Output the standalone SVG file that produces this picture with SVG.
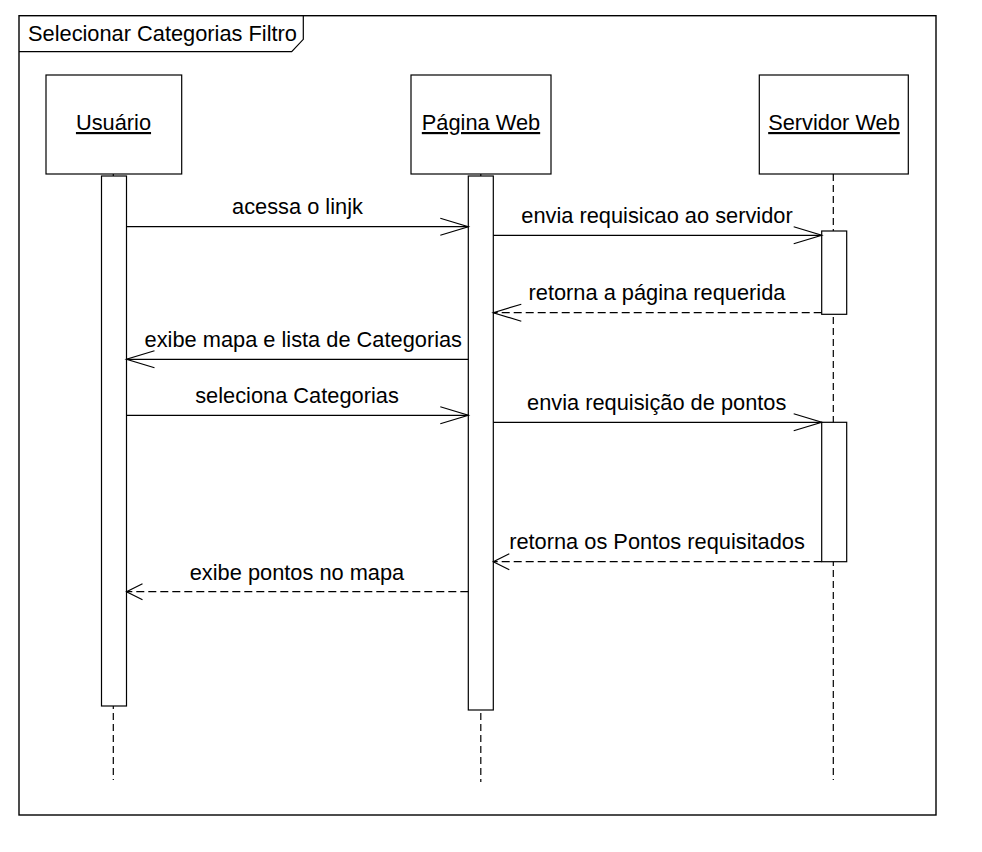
<svg xmlns="http://www.w3.org/2000/svg" width="982" height="852" viewBox="0 0 982 852">
<style>
text{font-family:"Liberation Sans",Arial,sans-serif;font-size:21.8px;fill:#000}
.mid{text-anchor:middle}
.ul{text-decoration:underline}
.box{fill:#fff;stroke:#000;stroke-width:1.2}
.act{fill:#fff;stroke:#000;stroke-width:1.2}
.life{stroke:#000;stroke-width:1.2;stroke-dasharray:7,4;fill:none}
.msg{stroke:#000;stroke-width:1.2;fill:none}
.ret{stroke:#000;stroke-width:1.2;fill:none;stroke-dasharray:8,4}
</style>
<defs>
<marker id="open" markerUnits="userSpaceOnUse" markerWidth="40" markerHeight="24" viewBox="-30 -12 32 24" refX="0" refY="0" orient="auto" overflow="visible">
<path d="M-28,-8.5 L0,0 L-28,8.5" fill="none" stroke="#000" stroke-width="1.2"/>
</marker>
<marker id="openS" markerUnits="userSpaceOnUse" markerWidth="40" markerHeight="24" viewBox="-30 -12 32 24" refX="0" refY="0" orient="auto" overflow="visible">
<path d="M-16,-8 L0,0 L-16,8" fill="none" stroke="#000" stroke-width="1.2"/>
</marker>
</defs>
<rect width="982" height="852" fill="#fff"/>
<g id="frame">
<rect x="19" y="15.7" width="917" height="799.3" fill="none" stroke="#000" stroke-width="1.4"/>
<path d="M19,51.7 L291.7,51.7 L303.3,39.3 L303.3,15.7" fill="none" stroke="#000" stroke-width="1.2"/>
<text x="28" y="40.7">Selecionar Categorias Filtro</text>
</g>
<g id="lifelines">
<line class="life" x1="113.3" y1="174" x2="113.3" y2="780"/>
<line class="life" x1="480.8" y1="174" x2="480.8" y2="782"/>
<line class="life" x1="833.3" y1="174" x2="833.3" y2="780"/>
</g>
<g id="usuario">
<rect class="box" x="46" y="75" width="135.7" height="99"/>
<text class="mid ul" x="113.5" y="130">Usuário</text>
<rect class="act" x="101.5" y="176" width="25" height="530"/>
</g>
<g id="pagina">
<rect class="box" x="411" y="75" width="140" height="99"/>
<text class="mid ul" x="481" y="130">Página Web</text>
<rect class="act" x="468.3" y="176" width="25" height="534"/>
</g>
<g id="servidor">
<rect class="box" x="759.3" y="75" width="149" height="99"/>
<text class="mid ul" x="834" y="130">Servidor Web</text>
<rect class="act" x="821.7" y="231" width="25" height="83.3"/>
<rect class="act" x="821.7" y="422.3" width="25" height="139.4"/>
</g>
<g id="connectors">
<line class="msg" x1="126.5" y1="226.7" x2="468.3" y2="226.7" marker-end="url(#open)"/>
<text class="mid" x="297.5" y="214">acessa o linjk</text>
<line class="msg" x1="493.3" y1="235.3" x2="821.7" y2="235.3" marker-end="url(#open)"/>
<text class="mid" x="657" y="222.7">envia requisicao ao servidor</text>
<line class="ret" x1="821.7" y1="312.7" x2="493.3" y2="312.7" marker-end="url(#open)"/>
<text class="mid" x="657" y="300">retorna a página requerida</text>
<line class="msg" x1="468.3" y1="359.3" x2="126.5" y2="359.3" marker-end="url(#open)"/>
<text class="mid" x="303.3" y="346.7">exibe mapa e lista de Categorias</text>
<line class="msg" x1="126.5" y1="415.3" x2="468.3" y2="415.3" marker-end="url(#open)"/>
<text class="mid" x="297" y="402.7">seleciona Categorias</text>
<line class="msg" x1="493.3" y1="422.3" x2="821.7" y2="422.3" marker-end="url(#open)"/>
<text class="mid" x="656.7" y="410">envia requisição de pontos</text>
<line class="ret" x1="821.7" y1="561.7" x2="493.3" y2="561.7" marker-end="url(#openS)"/>
<text class="mid" x="657" y="549">retorna os Pontos requisitados</text>
<line class="ret" x1="468.3" y1="591.7" x2="126.5" y2="591.7" marker-end="url(#openS)"/>
<text class="mid" x="297" y="580">exibe pontos no mapa</text>
</g>
</svg>
